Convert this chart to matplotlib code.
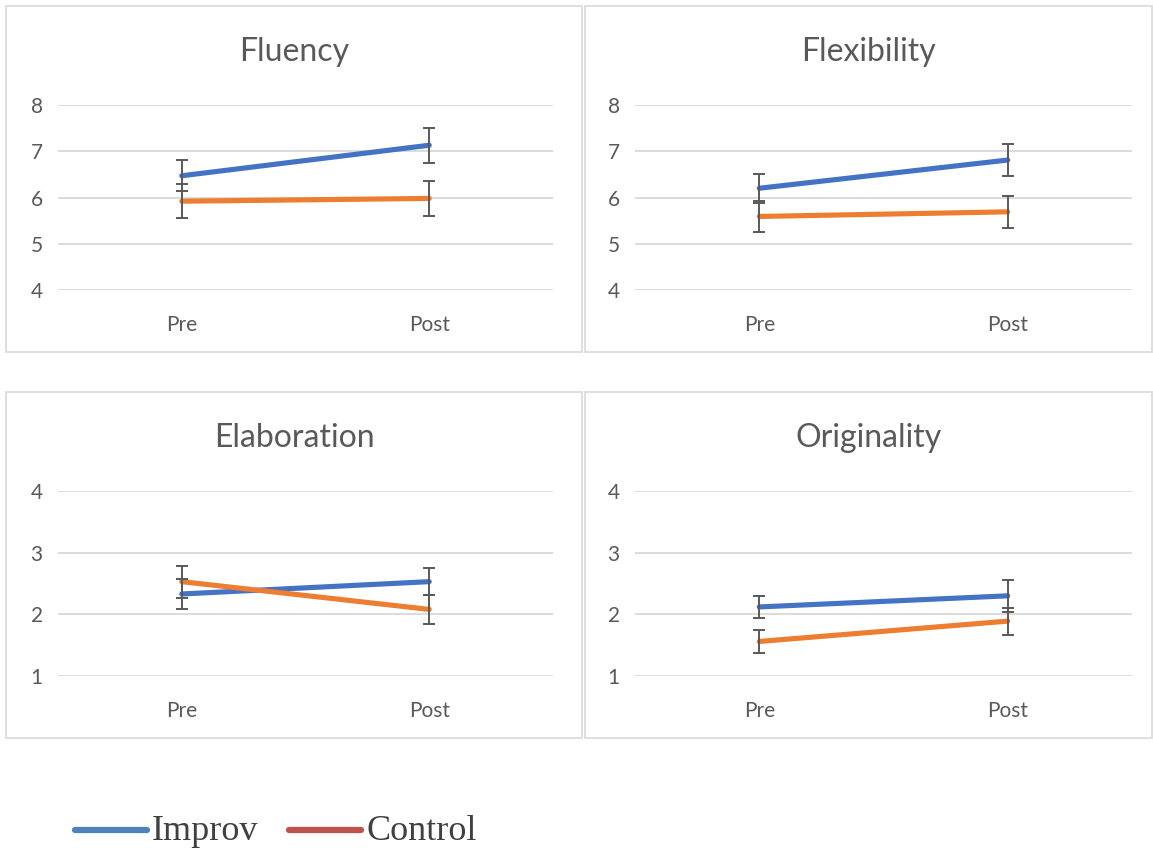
import matplotlib.pyplot as plt
from matplotlib.patches import Rectangle
from matplotlib.lines import Line2D

# data
categories = ["Pre", "Post"]
titles = ["Fluency", "Flexibility", "Elaboration", "Originality"]

improv_mean = [[6.47, 7.13], [6.20, 6.81], [2.33, 2.53], [2.12, 2.30]]
improv_err = [[0.34, 0.38], [0.31, 0.35], [0.24, 0.22], [0.18, 0.26]]
control_mean = [[5.92, 5.98], [5.59, 5.69], [2.53, 2.08], [1.56, 1.89]]
control_err = [[0.37, 0.38], [0.33, 0.35], [0.26, 0.24], [0.19, 0.22]]

y_ticks = [[4, 5, 6, 7, 8], [4, 5, 6, 7, 8], [1, 2, 3, 4], [1, 2, 3, 4]]

BLUE = "#4472C4"
ORANGE = "#ED7D31"
GRID = "#d9d9d9"
TXT = "#595959"

W, H = 1153, 850
fig = plt.figure(figsize=(W / 100, H / 100), dpi=100)
plt.rcParams['font.family'] = ['Lato', 'DejaVu Sans']


def fbox(x0, y0, x1, y1):
    # pixel box (top-left origin) -> figure fraction [l, b, w, h]
    return [x0 / W, 1 - y1 / H, (x1 - x0) / W, (y1 - y0) / H]


frames = [(6, 6, 582, 352), (585, 6, 1152, 352),
          (6, 392, 582, 738), (585, 392, 1152, 738)]
plot_areas = [(58, 105, 553, 290), (635, 105, 1132, 290),
              (58, 491, 553, 676), (635, 491, 1132, 676)]

for i in range(4):
    fx0, fy0, fx1, fy1 = frames[i]
    fig.patches.append(Rectangle((fx0 / W, 1 - fy1 / H), (fx1 - fx0) / W, (fy1 - fy0) / H,
                                 transform=fig.transFigure, fill=False,
                                 edgecolor=GRID, linewidth=1.2))
    fig.text((fx0 + fx1) / 2 / W, 1 - (fy0 + 46) / H, titles[i], ha="center", va="center",
             fontsize=23, color=TXT)

    ax = fig.add_axes(fbox(*plot_areas[i]))
    x = list(range(len(categories)))
    ax.plot(x, improv_mean[i], color=BLUE, lw=3.7, solid_capstyle="round", zorder=3)
    ax.plot(x, control_mean[i], color=ORANGE, lw=3.7, solid_capstyle="round", zorder=3)
    ax.errorbar(x, improv_mean[i], yerr=improv_err[i], fmt="none", ecolor=TXT,
                elinewidth=1.4, capsize=4.5, capthick=1.4, zorder=4)
    ax.errorbar(x, control_mean[i], yerr=control_err[i], fmt="none", ecolor=TXT,
                elinewidth=1.4, capsize=4.5, capthick=1.4, zorder=4)

    ax.set_xlim(-0.5, 1.5)
    ax.set_ylim(y_ticks[i][0], y_ticks[i][-1])
    ax.set_yticks(y_ticks[i])
    ax.set_xticks(x)
    ax.set_xticklabels(categories)
    ax.grid(axis="y", color=GRID, lw=1.3)
    ax.set_axisbelow(True)
    for s in ax.spines.values():
        s.set_visible(False)
    ax.tick_params(length=0, labelsize=15, colors=TXT)
    ax.tick_params(axis="y", pad=11)
    ax.tick_params(axis="x", pad=18)

# legend at bottom (serif, like the original image)
lax = fig.add_axes([0, 0, 1, 1])
lax.set_xlim(0, W)
lax.set_ylim(H, 0)
lax.axis("off")
lax.add_line(Line2D([75, 147], [830, 830], color="#4F81BD", lw=4.5, solid_capstyle="round"))
lax.add_line(Line2D([289, 361], [830, 830], color="#C0504D", lw=4.5, solid_capstyle="round"))
lax.text(152, 840, "Improv", fontsize=26, family="Liberation Serif", color="#404040",
         va="baseline", ha="left")
lax.text(367, 840, "Control", fontsize=26, family="Liberation Serif", color="#404040",
         va="baseline", ha="left")

fig.savefig("out.png", dpi=100, facecolor="white")
